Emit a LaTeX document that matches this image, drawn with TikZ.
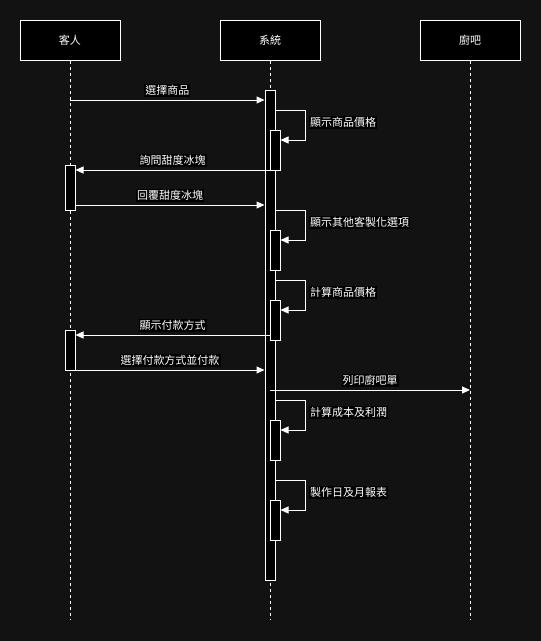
\documentclass[tikz,border=0pt]{standalone}
\usepackage{fontspec}
\newfontfamily\tcfont{Noto Sans CJK TC}
\usetikzlibrary{arrows.meta}
\definecolor{bgdark}{HTML}{121212}

\begin{document}
\begin{tikzpicture}[x=1pt, y=-1pt,
  every node/.style={font=\tcfont\fontsize{11}{13}\selectfont, text=white},
  head/.style={draw=white, fill=black, line width=1pt, minimum width=100pt, minimum height=40pt, inner sep=0pt},
  act/.style={draw=white, fill=black, line width=1pt, minimum width=10pt, inner sep=0pt},
  life/.style={white, line width=1pt, dash pattern=on 3pt off 3pt},
  msg/.style={white, line width=1pt, -{Triangle[length=8pt, width=7pt]}},
  lbl/.style={fill=black, inner sep=1pt}]
  % Hintergrund
  \fill[bgdark] (0,0) rectangle (541,641);
  % Kopfboxen und Lebenslinien
  \foreach \h/\x/\t in {kr/70/客人, xt/270/系統, cb/470/廚吧}{
    \node[head] (\h) at (\x,40) {\t};
    \coordinate (\h-end) at (\x,620);
    \draw[life] (\h) -- (\h-end);
  }
  % Aktivierungen System
  \node[act, minimum height=490pt] (xt-a) at (270,335) {};
  \foreach \n/\y in {1/150, 2/250, 3/320, 4/440, 5/520}{
    \node[act, minimum height=40pt] (xt-a\n) at (275,\y) {};
  }
  % Aktivierungen Kunde
  \node[act, minimum height=45pt] (kr-a1) at (70,187.5) {};
  \node[act, minimum height=40pt] (kr-a2) at (70,350) {};
  % Nachrichten
  \draw[msg] (kr |- 0,100) -- node[lbl, above=3pt] {選擇商品} (xt-a.west |- 0,100);
  \draw[msg] (xt-a.east |- 0,110) -- ++(30,0) |- node[lbl, pos=0.25, right=3pt, yshift=2.5pt] {顯示商品價格} (xt-a1.east |- 0,140);
  \draw[msg] (xt-a1.west |- 0,170) -- node[lbl, above=3pt] {詢問甜度冰塊} (kr-a1.east |- 0,170);
  \draw[msg] (kr-a1.east |- 0,205) -- node[lbl, above=3pt] {回覆甜度冰塊} (xt-a.west |- 0,205);
  \draw[msg] (xt-a.east |- 0,210) -- ++(30,0) |- node[lbl, pos=0.25, right=3pt, yshift=2.5pt] {顯示其他客製化選項} (xt-a2.east |- 0,240);
  \draw[msg] (xt-a.east |- 0,280) -- ++(30,0) |- node[lbl, pos=0.25, right=3pt, yshift=2.5pt] {計算商品價格} (xt-a3.east |- 0,310);
  \draw[msg] (xt-a3.west |- 0,335) -- node[lbl, above=3pt] {顯示付款方式} (kr-a2.east |- 0,335);
  \draw[msg] (kr-a2.east |- 0,370) -- node[lbl, above=3pt] {選擇付款方式並付款} (xt-a.west |- 0,370);
  \draw[msg] (xt-a |- 0,390) -- node[lbl, above=3pt] {列印廚吧單} (cb |- 0,390);
  \draw[msg] (xt-a.east |- 0,400) -- ++(30,0) |- node[lbl, pos=0.25, right=3pt, yshift=2.5pt] {計算成本及利潤} (xt-a4.east |- 0,430);
  \draw[msg] (xt-a.east |- 0,480) -- ++(30,0) |- node[lbl, pos=0.25, right=3pt, yshift=2.5pt] {製作日及月報表} (xt-a5.east |- 0,510);
\end{tikzpicture}
\end{document}
